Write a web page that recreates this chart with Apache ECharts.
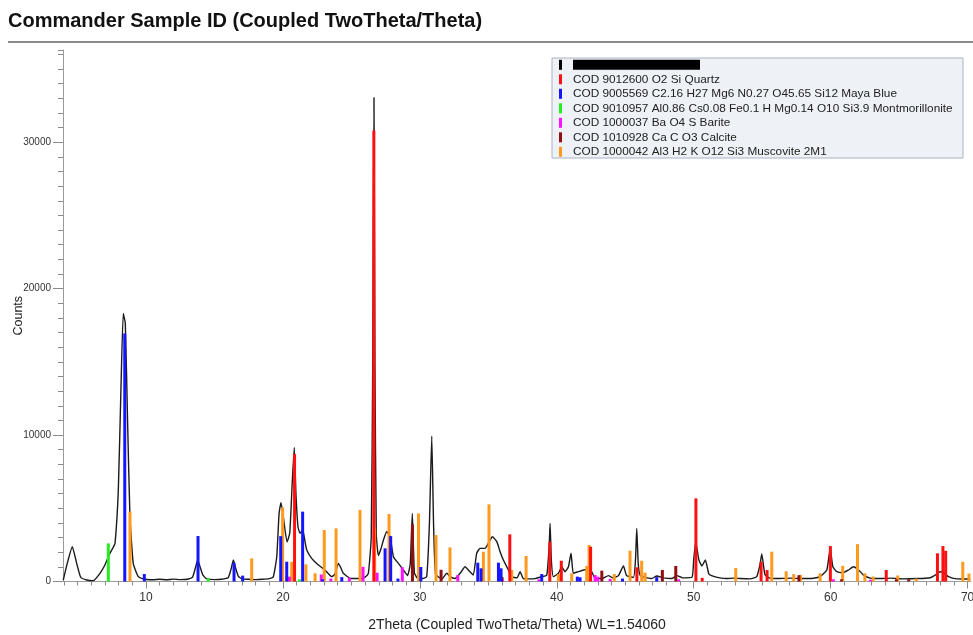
<!DOCTYPE html>
<html>
<head>
<meta charset="utf-8">
<script src="https://cdn.jsdelivr.net/npm/echarts@6/dist/echarts.min.js"></script>
<style>
  html, body { margin: 0; padding: 0; background: #ffffff; }
  #chart { width: 973px; height: 635px; }
</style>
</head>
<body>
<div id="chart"></div>
<script>
// Measured diffraction pattern: 2Theta (deg) and counts
const patternX = [3.96,4.25,4.62,4.94,5.23,5.67,6.15,6.64,7.0,7.37,7.57,7.74,7.98,8.17,8.34,8.49,8.66,8.83,9.07,9.44,9.93,
  10.5,11.0,11.5,12.0,12.5,13.0,13.4,13.6,13.78,13.95,14.15,14.4,15.0,15.5,16.0,16.2,16.38,16.55,16.75,17.0,17.5,18.0,18.5,19.0,
  19.3,19.55,19.72,19.86,20.03,20.3,20.5,20.69,20.83,20.95,21.1,21.25,21.45,21.6,21.74,22.1,22.59,23.07,23.56,23.8,24.05,24.2,24.41,
  24.9,25.3,25.75,26.0,26.24,26.45,26.56,26.65,26.72,26.82,26.97,27.15,27.34,27.58,27.83,28.07,28.43,28.8,29.1,29.3,29.45,29.6,29.8,
  30.2,30.5,30.7,30.87,31.0,31.15,31.6,31.97,32.2,32.57,32.94,33.3,33.54,33.9,34.15,34.4,34.76,35.0,35.3,35.62,35.86,36.1,36.47,36.71,
  37.1,37.32,37.56,38.0,38.4,38.9,39.27,39.45,39.51,39.6,39.75,40.12,40.36,40.6,40.85,41.04,41.21,41.57,41.94,42.3,42.55,42.8,43.3,
  43.77,44.1,44.5,44.87,45.1,45.6,45.75,45.84,45.95,46.1,46.6,46.94,47.3,47.8,48.4,48.77,49.2,49.88,50.0,50.15,50.38,50.6,50.85,51.1,
  51.3,51.9,52.4,52.9,53.4,54.1,54.6,54.85,54.97,55.2,55.5,56.1,57.1,58.0,58.74,59.23,59.72,59.97,60.16,60.45,60.9,61.3,61.67,62.04,
  62.4,62.9,63.6,64.4,65.3,66.3,67.27,67.64,68.0,68.24,68.6,69.2,70.2];
const patternY = [100,1240,2375,1240,290,100,60,560,1130,1925,2270,2600,6245,13070,18300,17620,10800,4420,1240,330,150,
  120,150,120,160,130,150,300,900,1470,1000,450,200,130,150,250,800,1470,900,350,180,150,130,150,200,
  330,1690,4650,5380,4420,2700,3300,6930,9160,6000,3740,3290,3515,2800,2150,1580,1125,785,330,500,1240,1000,560,
  220,200,220,300,560,3000,15000,33050,15000,3200,1780,2200,2830,3400,3060,1690,1240,785,400,1200,4650,600,250,
  200,330,4000,9930,4000,500,170,560,330,200,560,1010,785,440,1925,2265,2265,2600,3060,2720,2035,1470,785,330,
  250,670,200,180,200,330,440,2500,3970,1500,330,560,1010,670,1010,1925,560,670,785,830,670,220,200,
  400,250,400,1060,400,280,1500,3630,1200,400,250,200,380,250,200,400,250,300,1500,2700,1470,1060,1470,530,
  400,250,200,230,200,180,330,1200,1880,480,250,200,230,200,220,330,785,2265,1010,670,600,785,1010,785,
  440,230,200,230,180,200,260,440,670,600,330,180,170];

// Reference stick patterns (position in 2Theta, intensity in counts)
const quartzPos = [20.85,26.64,36.57,39.49,40.33,42.47,45.85,50.16,50.62,54.92,55.36,59.98,64.06,67.8,68.2,68.4];
const quartzInt = [8700,30800,3220,2720,1420,2375,970,5680,250,1350,785,2420,785,1925,2420,2100];

const mayaBluePos = [8.45,9.88,13.8,16.43,17.06,19.84,20.28,21.44,22.9,24.3,27.46,27.87,28.4,30.07,34.23,34.47,35.74,35.93,38.9,41.5,41.7,44.8,47.3];
const mayaBlueInt = [16940,510,3105,1285,400,3100,1350,4770,150,300,2265,3100,200,990,1285,900,1285,900,510,330,290,200,300];

const montPos = [7.25,14.55,21.2];
const montInt = [2600,220,150];

const baritePos = [20.47,22.8,23.5,24.85,25.85,26.88,28.72,32.77,36.0,38.7,42.8,43.0,43.9,48.9,60.2,62.9];
const bariteInt = [330,480,200,260,1000,600,970,440,200,150,440,330,180,150,150,120];

const calcitePos = [29.46,31.55,36.0,43.29,47.71,48.69,57.68,60.8,64.8,65.7];
const calciteInt = [3900,800,300,740,785,1060,430,150,150,150];

const muscovitePos = [8.83,17.72,19.98,20.27,20.64,21.68,22.35,23.02,23.88,25.63,26.7,27.75,29.9,31.18,32.2,34.64,35.05,36.71,37.76,40.12,
  41.09,42.19,42.36,44.2,45.35,46.2,46.45,53.07,55.7,56.75,57.3,57.8,59.23,60.88,61.96,62.5,63.1,64.9,66.25,69.65,70.1];
const muscoviteInt = [4770,1580,5060,410,1350,1170,560,3515,3630,4880,3600,4610,4650,3170,2330,2035,5270,785,1740,510,
  560,1060,2490,510,2100,1420,600,920,2035,700,500,450,560,1070,2550,560,340,410,200,1350,540];

// Axis ticks
const xLabelTicks = [10,20,30,40,50,60,70];
const yLabelTicks = [0,10000,20000,30000];
const xMinorTicks = [];
for (let t = 4; t <= 70; t++) xMinorTicks.push(t);

const legendNames = [
  'Sample',
  'COD 9012600 O2 Si Quartz',
  'COD 9005569 C2.16 H27 Mg6 N0.27 O45.65 Si12 Maya Blue',
  'COD 9010957 Al0.86 Cs0.08 Fe0.1 H Mg0.14 O10 Si3.9 Montmorillonite',
  'COD 1000037 Ba O4 S Barite',
  'COD 1010928 Ca C O3 Calcite',
  'COD 1000042 Al3 H2 K O12 Si3 Muscovite 2M1'
];

const zip = (a, b) => a.map((v, i) => [v, b[i]]);

const FONT = '"Liberation Sans", Arial, sans-serif';

function stickSeries(name, pos, val, color, z) {
  return {
    name: name,
    type: 'bar',
    xAxisIndex: 0,
    yAxisIndex: 0,
    data: zip(pos, val),
    barWidth: 3,
    barGap: '-100%',
    itemStyle: { color: color },
    z: z,
    silent: true,
    animation: false
  };
}

const chart = echarts.init(document.getElementById('chart'), null, { renderer: 'canvas' });

const option = {
  backgroundColor: '#ffffff',
  animation: false,
  title: {
    text: 'Commander Sample ID (Coupled TwoTheta/Theta)',
    left: 8,
    top: 11,
    padding: 0,
    textStyle: { fontFamily: FONT, fontSize: 20, fontWeight: 'bold', color: '#111111' }
  },
  graphic: [
    { type: 'line', shape: { x1: 8, y1: 42, x2: 973, y2: 42 }, style: { stroke: '#8c8c8c', lineWidth: 2 }, z: 10 },
    { type: 'rect', shape: { x: 552, y: 58, width: 411, height: 100 },
      style: { fill: '#eef1f6', stroke: '#a8b3c5', lineWidth: 1 }, z: 0, zlevel: 0 }
  ],
  legend: {
    data: legendNames,
    orient: 'vertical',
    left: 559,
    top: 58.8,
    padding: 0,
    itemGap: 2.5,
    itemWidth: 3,
    itemHeight: 10,
    icon: 'rect',
    selectedMode: false,
    z: 20,
    textStyle: {
      fontFamily: FONT, fontSize: 11.8, color: '#222222', lineHeight: 11, padding: [0, 0, 0, 6],
      rich: { r: { backgroundColor: '#000000', width: 127, height: 10, lineHeight: 10 } }
    },
    formatter: function (name) { return name === 'Sample' ? '{r| }' : name; }
  },
  grid: { left: 63, right: 2, top: 50, bottom: 53.5, containLabel: false, outerBoundsMode: 'none' },
  xAxis: [
    {
      type: 'value', min: 3.94, max: 70.25,
      name: '2Theta (Coupled TwoTheta/Theta) WL=1.54060',
      nameLocation: 'middle', nameGap: 37, nameMoveOverlap: false,
      nameTextStyle: { fontFamily: FONT, fontSize: 14, color: '#222222' },
      axisLine: { show: true, lineStyle: { color: '#9a9a9a', width: 1 } },
      axisTick: { show: true, customValues: xLabelTicks, length: 7, lineStyle: { color: '#8a8a8a' } },
      axisLabel: { customValues: xLabelTicks, fontFamily: FONT, fontSize: 12, color: '#333333', margin: 10 },
      splitLine: { show: false }
    },
    {
      type: 'value', min: 3.94, max: 70.25, position: 'bottom',
      axisLine: { show: false },
      axisTick: { show: true, customValues: xMinorTicks, length: 4, lineStyle: { color: '#8a8a8a' } },
      axisLabel: { show: false },
      splitLine: { show: false }
    }
  ],
  yAxis: [
    {
      type: 'value', min: 0, max: 36300, position: 'left',
      name: 'Counts', nameLocation: 'middle', nameGap: 38, nameRotate: 90, nameMoveOverlap: false,
      nameTextStyle: { fontFamily: FONT, fontSize: 12.5, color: '#222222' },
      axisLine: { show: true, lineStyle: { color: '#9a9a9a', width: 1 } },
      axisTick: { show: true, customValues: yLabelTicks, length: 10, lineStyle: { color: '#8a8a8a' } },
      axisLabel: {
        customValues: yLabelTicks, fontFamily: FONT, fontSize: 10, color: '#333333', margin: 12,
        formatter: function (v) { return String(v); }
      },
      splitLine: { show: false }
    },
    {
      type: 'value', min: 0, max: 36300, interval: 1000, position: 'left',
      axisLine: { show: false },
      axisTick: { show: true, length: 5, lineStyle: { color: '#8a8a8a' } },
      axisLabel: { show: false },
      splitLine: { show: false }
    }
  ],
  series: [
    {
      name: 'Sample',
      type: 'line',
      xAxisIndex: 0, yAxisIndex: 0,
      data: zip(patternX, patternY),
      showSymbol: false,
      smooth: 0.15,
      lineStyle: { color: '#1a1a1a', width: 1.4 },
      itemStyle: { color: '#000000' },
      z: 3,
      silent: true
    },
    stickSeries(legendNames[6], muscovitePos, muscoviteInt, '#ff9a1f', 4),
    stickSeries(legendNames[4], baritePos, bariteInt, '#ff10ff', 5),
    stickSeries(legendNames[3], montPos, montInt, '#22ee22', 5),
    stickSeries(legendNames[5], calcitePos, calciteInt, '#8e1010', 6),
    stickSeries(legendNames[2], mayaBluePos, mayaBlueInt, '#1515ff', 7),
    stickSeries(legendNames[1], quartzPos, quartzInt, '#ff1010', 8)
  ]
};

chart.setOption(option);
</script>
</body>
</html>
